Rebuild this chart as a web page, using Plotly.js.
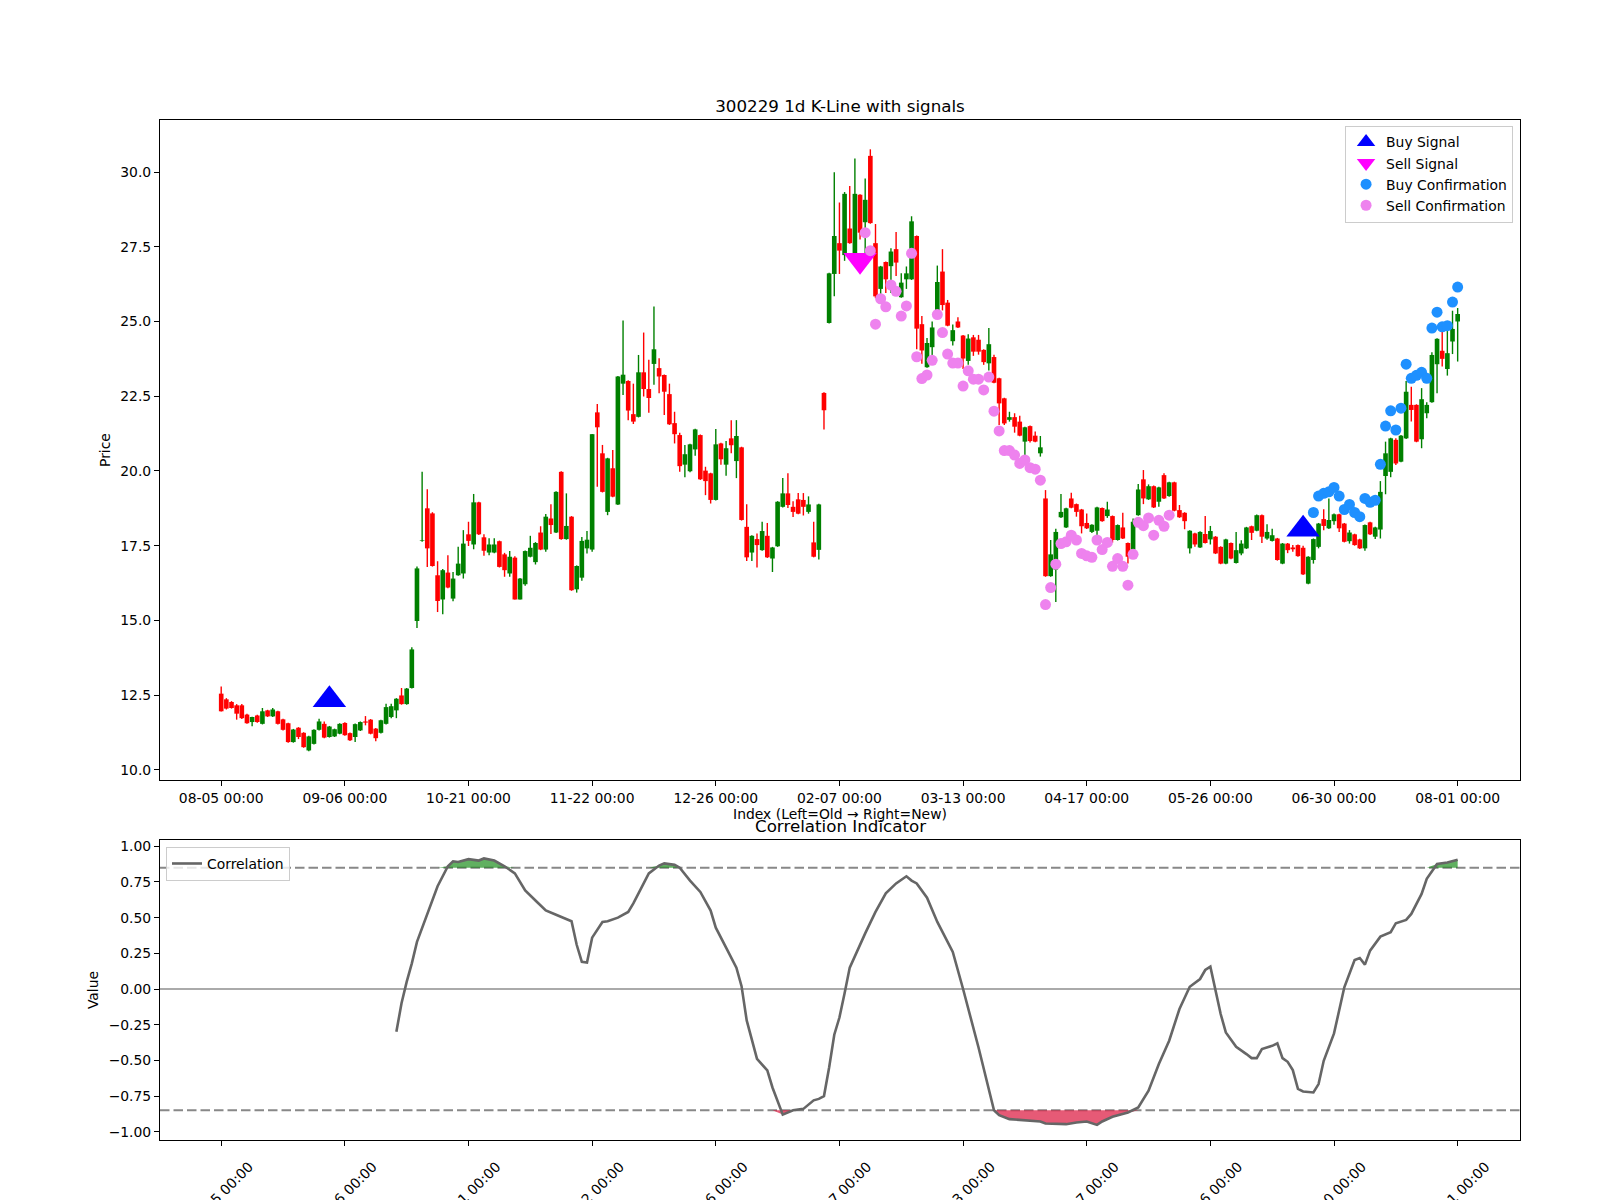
<!DOCTYPE html>
<html>
<head>
<meta charset="utf-8">
<script src="https://cdn.plot.ly/plotly-3.0.1.min.js"></script>
<style>html,body{margin:0;padding:0;background:#fff;}#chart{width:1600px;height:1200px;}</style>
</head>
<body>
<div id="chart"></div>
<script>
// ---------- data ----------
const tickIdx = [0, 24, 48, 72, 96, 120, 144, 168, 192, 216, 240];
const tickText = ['08-05 00:00','09-06 00:00','10-21 00:00','11-22 00:00','12-26 00:00','02-07 00:00','03-13 00:00','04-17 00:00','05-26 00:00','06-30 00:00','08-01 00:00'];

const open = [
12.55,12.36,12.27,12.16,12.16,11.85,11.60,11.82,11.54,11.99,
11.79,11.96,11.69,11.56,10.93,11.41,11.24,10.65,10.87,11.34,
11.54,11.10,11.12,11.21,11.57,11.23,11.10,11.32,11.62,11.68,
11.38,11.24,11.54,11.77,11.99,12.49,12.20,12.74,14.98,17.66,
18.75,18.58,16.51,15.70,16.60,15.73,16.51,16.57,17.88,17.54,
18.95,17.78,17.27,17.27,17.65,17.21,16.57,17.10,15.70,16.21,
17.13,16.95,17.94,17.37,18.41,17.94,19.97,17.72,18.47,16.04,
16.43,17.41,17.37,21.96,20.59,18.63,20.09,18.88,22.92,23.01,
21.90,21.81,23.30,22.74,23.58,23.44,23.21,22.57,21.60,21.20,
20.21,19.99,20.72,21.20,20.01,19.92,19.03,20.92,20.21,21.09,
20.33,20.79,18.13,17.27,17.72,17.35,17.83,17.07,17.48,18.80,
19.25,18.80,19.05,19.03,18.63,17.61,17.36,22.61,24.95,26.59,
27.62,27.22,28.11,27.11,29.24,28.32,30.54,27.62,26.09,26.99,
26.85,27.42,25.81,26.41,26.41,27.86,24.91,23.47,24.14,25.14,
26.67,25.63,24.34,25.00,24.53,23.68,24.47,24.39,24.05,23.60,
23.81,23.10,22.43,21.71,21.80,21.65,20.98,21.50,21.18,20.59,
19.08,16.48,16.70,18.45,18.11,19.08,18.89,18.71,18.26,17.96,
18.00,18.76,18.49,18.49,17.69,18.11,17.59,17.37,18.52,19.72,
19.05,19.49,18.97,19.86,19.16,19.62,18.69,18.60,17.41,17.91,
17.44,17.89,17.71,17.80,17.46,16.90,17.59,16.92,17.24,17.41,
18.15,18.00,18.52,17.74,17.66,17.74,16.90,17.57,17.44,17.52,
17.43,16.23,17.02,17.46,18.39,18.08,18.32,18.55,18.24,17.65,
17.88,17.71,17.41,18.28,17.80,18.04,19.83,19.97,21.04,20.31,
21.09,22.21,22.21,21.06,21.93,22.30,23.57,24.02,23.41,24.33,
25.00];

const high = [
12.79,12.40,12.30,12.20,12.20,11.88,11.78,11.84,12.07,12.01,
12.07,11.98,11.71,11.58,11.37,11.43,11.26,11.14,11.36,11.71,
11.62,11.47,11.38,11.56,11.59,11.25,11.55,11.62,11.80,11.70,
11.40,11.68,12.21,12.21,12.40,12.74,12.74,14.10,16.80,19.97,
19.39,18.62,16.98,16.72,17.18,16.62,17.46,18.02,18.30,19.23,
18.97,17.88,17.75,17.75,17.67,17.26,17.32,17.15,16.42,17.34,
17.83,17.62,18.15,18.56,18.89,19.32,19.99,19.25,18.49,16.84,
17.79,17.99,21.24,22.24,20.87,20.44,20.70,23.18,25.03,23.03,
22.92,23.88,24.63,23.72,25.50,23.77,23.23,22.92,21.98,21.28,
20.87,20.91,21.41,21.22,20.14,19.94,21.40,20.94,21.00,21.70,
21.70,20.81,18.89,17.85,17.91,18.30,18.26,17.46,18.99,19.76,
19.92,18.99,19.26,19.26,19.15,18.30,18.90,22.63,26.63,29.99,
28.98,29.33,29.53,30.45,29.26,29.78,30.76,28.26,26.86,27.01,
27.45,27.99,26.61,26.84,28.52,27.88,25.18,24.45,25.00,26.87,
27.42,25.72,24.90,25.14,24.55,24.57,24.55,24.55,24.07,24.78,
23.89,23.12,22.45,21.98,21.93,21.85,21.48,21.52,21.32,21.17,
19.36,17.69,18.07,19.23,18.77,19.27,18.91,18.73,18.58,18.22,
18.80,18.78,18.97,18.51,18.21,18.60,17.61,18.41,19.56,20.03,
19.55,19.51,19.47,19.92,19.64,19.64,18.86,18.62,18.02,17.93,
17.98,18.49,18.16,17.82,17.48,17.73,17.61,17.96,17.68,18.13,
18.17,18.54,18.54,18.22,18.07,17.76,17.59,17.59,17.52,17.54,
17.50,17.15,17.74,18.26,18.72,19.08,18.58,18.57,18.26,18.02,
17.90,17.73,18.21,18.30,18.13,19.66,20.98,21.11,21.09,21.20,
23.01,22.82,22.23,22.77,22.30,23.97,24.44,24.98,24.80,25.36,
25.45];

const low = [
11.95,12.02,12.05,11.68,11.70,11.54,11.46,11.58,11.52,11.77,
11.77,11.52,11.32,10.91,10.91,11.03,10.74,10.62,10.85,11.32,
11.06,11.08,11.10,11.19,11.14,10.97,10.93,11.30,11.49,11.19,
10.96,11.22,11.52,11.73,11.73,12.18,12.18,12.72,14.75,17.63,
16.79,16.80,15.28,15.21,16.08,15.64,16.49,16.40,17.49,17.38,
17.86,17.16,17.18,17.25,16.77,16.46,16.46,15.70,15.70,16.16,
17.11,16.87,17.35,17.30,17.89,17.92,17.70,17.70,15.99,15.93,
16.33,17.24,17.30,19.47,19.28,18.52,19.12,18.86,22.54,21.70,
21.57,21.79,22.49,21.95,22.88,22.60,21.87,21.54,20.92,19.97,
19.79,19.96,20.51,19.70,19.19,18.91,19.01,20.21,19.84,20.59,
19.76,18.34,16.99,16.99,16.77,17.33,17.09,16.62,17.46,18.78,
18.76,18.46,18.55,18.51,18.57,17.11,17.04,21.39,24.93,25.84,
26.59,27.03,27.60,27.09,27.74,26.99,28.27,25.78,25.66,25.95,
25.95,26.52,25.79,26.09,26.39,24.07,23.59,23.45,23.84,25.12,
25.37,24.84,24.20,24.78,23.41,23.55,23.85,23.89,23.55,23.36,
22.93,21.54,21.54,21.65,21.28,21.16,20.42,20.95,20.96,20.48,
16.46,16.46,15.62,18.43,18.09,18.75,18.47,17.91,18.06,17.92,
17.86,18.30,18.43,17.60,17.67,17.72,16.90,17.30,18.50,18.89,
19.03,18.76,18.80,19.06,19.14,18.65,18.43,18.05,17.24,17.46,
17.42,17.57,17.54,17.22,16.88,16.88,17.05,16.90,17.18,17.39,
17.69,17.98,17.59,17.70,17.64,17.00,16.88,17.25,17.30,17.13,
16.52,16.21,16.90,17.41,18.02,18.06,18.20,17.96,17.61,17.57,
17.50,17.39,17.33,17.86,17.72,17.74,19.22,19.79,20.20,20.29,
21.07,21.65,20.96,20.76,21.76,22.28,22.60,23.49,23.19,23.91,
23.66];

const close = [
11.96,12.05,12.07,11.88,11.73,11.56,11.77,11.60,11.96,11.79,
12.02,11.54,11.34,10.93,11.35,11.10,10.76,11.12,11.34,11.62,
11.08,11.45,11.36,11.54,11.16,10.99,11.53,11.60,11.58,11.21,
11.06,11.66,12.10,12.13,12.38,12.20,12.72,14.03,16.74,17.68,
17.41,16.82,15.65,16.68,16.10,16.40,16.90,17.57,17.66,18.95,
17.88,17.33,17.54,17.54,16.79,16.68,17.13,15.70,16.40,17.32,
17.43,17.59,17.37,18.47,18.19,19.30,17.72,18.16,16.01,16.82,
17.66,17.70,21.23,21.46,19.30,20.42,19.14,23.16,23.22,22.02,
21.65,23.30,22.74,22.44,24.07,23.16,22.65,21.56,21.23,20.16,
20.56,20.89,21.39,19.72,19.66,19.03,20.89,20.39,20.76,20.86,
21.17,18.36,17.11,17.83,17.52,17.99,17.11,17.44,18.97,19.25,
18.86,18.63,18.57,18.80,18.88,17.13,18.88,22.03,26.61,27.86,
27.37,29.27,27.62,29.27,27.97,29.07,28.29,25.84,26.84,26.41,
27.34,26.97,26.30,26.61,28.35,24.76,24.03,24.28,24.80,26.32,
25.55,24.86,24.71,24.80,23.76,24.43,23.99,23.99,23.64,24.24,
22.95,22.26,21.59,21.80,21.48,21.18,21.46,21.00,20.98,20.79,
16.48,17.21,17.96,18.63,18.75,18.77,18.63,18.15,18.08,18.20,
18.78,18.32,18.71,17.69,18.19,17.74,17.13,18.30,19.38,19.08,
19.49,18.78,19.45,19.08,19.62,18.67,18.45,18.32,18.00,17.54,
17.96,17.59,17.99,17.24,16.90,17.71,17.07,17.35,17.57,18.11,
17.93,18.52,17.80,17.96,17.85,17.02,17.57,17.35,17.38,17.15,
16.54,17.13,17.72,18.24,18.16,18.36,18.55,18.08,17.63,17.94,
17.52,17.41,18.19,17.88,18.11,19.30,20.59,21.09,20.25,21.18,
22.65,22.04,20.98,22.40,22.21,23.88,24.42,23.75,23.94,24.75,
25.25];

const buySignalIdx = [21, 210];
const buySignalPrice = [12.35, 18.05];
const sellSignalIdx = [124];
const sellSignalPrice = [27.05];

const buyConfIdx = [212,213,214,215,216,217,218,219,220,221,222,223,224,225,226,227,228,229,230,231,232,233,234,235,236,237,238,239,240];
const buyConfPrice = [18.61,19.16,19.25,19.30,19.45,19.16,18.71,18.88,18.61,18.47,19.08,18.95,19.02,20.22,21.50,22.01,21.37,22.10,23.57,23.10,23.20,23.30,23.10,24.78,25.31,24.82,24.86,25.65,26.15];

const sellConfIdx = [125,126,127,128,129,130,131,132,133,134,135,136,137,138,139,140,141,142,143,144,145,146,147,148,149,150,151,152,153,154,155,156,157,158,159,160,161,162,163,164,165,166,167,168,169,170,171,172,173,174,175,176,177,178,179,180,181,182,183,184];
const sellConfPrice = [27.97,27.37,24.91,25.76,25.49,26.22,26.01,25.18,25.52,27.28,23.82,23.09,23.21,23.70,25.23,24.63,23.91,23.61,23.61,22.84,23.35,23.07,23.07,22.71,23.14,22.00,21.34,20.68,20.68,20.53,20.25,20.37,20.11,20.06,19.69,15.53,16.10,16.88,17.57,17.63,17.85,17.69,17.24,17.16,17.11,17.69,17.37,17.61,16.81,17.07,16.81,16.18,17.21,18.28,18.17,18.43,17.85,18.35,18.15,18.52];

const corrIdx = [34,35,36,37,38,40,42,44,45,46,48,50,51,53,55,57,59,61,63,65,68,69,70,71,72,74,75,77,79,80,82,83,85,86,88,89,91,93,95,96,98,100,101,102,104,106,107,109,111,113,115,116,117,118,119,120,121,122,125,127,129,131,133,134,135,137,139,142,144,147,150,151,153,156,159,160,164,166,168,170,171,173,176,178,180,182,184,186,188,190,191,192,193,194,195,197,199,200,201,202,204,205,206,207,208,209,210,212,213,214,216,218,220,221,222,223,225,227,228,230,231,233,234,236,238,240];
const corrVal = [-0.30,-0.10,0.05,0.18,0.33,0.53,0.72,0.86,0.895,0.89,0.91,0.90,0.915,0.90,0.86,0.81,0.69,0.62,0.55,0.52,0.475,0.31,0.19,0.185,0.36,0.47,0.475,0.50,0.54,0.60,0.74,0.81,0.865,0.88,0.87,0.85,0.76,0.68,0.55,0.43,0.29,0.15,0.02,-0.22,-0.49,-0.57,-0.69,-0.88,-0.85,-0.84,-0.78,-0.77,-0.75,-0.55,-0.32,-0.20,-0.03,0.15,0.39,0.54,0.67,0.74,0.79,0.76,0.74,0.64,0.47,0.26,0.0,-0.41,-0.85,-0.884,-0.912,-0.919,-0.928,-0.942,-0.947,-0.935,-0.928,-0.952,-0.928,-0.895,-0.865,-0.83,-0.713,-0.526,-0.362,-0.14,0.016,0.07,0.133,0.157,-0.012,-0.175,-0.304,-0.405,-0.456,-0.484,-0.484,-0.421,-0.398,-0.381,-0.484,-0.51,-0.568,-0.70,-0.718,-0.725,-0.666,-0.503,-0.311,0.012,0.203,0.217,0.171,0.269,0.367,0.398,0.461,0.484,0.526,0.666,0.772,0.876,0.886,0.905];

const corrThreshold = 0.85;
const priceTicks = [10, 12.5, 15, 17.5, 20, 22.5, 25, 27.5, 30];
const corrTicks = [-1, -0.75, -0.5, -0.25, 0, 0.25, 0.5, 0.75, 1];

// ---------- checks ----------
[open, high, low, close].forEach((a, k) => { if (a.length !== 241) throw new Error('OHLC array ' + k + ' length ' + a.length); });
if (buyConfIdx.length !== buyConfPrice.length) throw new Error('buyConf mismatch');
if (sellConfIdx.length !== sellConfPrice.length) throw new Error('sellConf mismatch');
if (corrIdx.length !== corrVal.length) throw new Error('corr mismatch');

// ---------- build candle traces ----------
const UP = '#008000', DOWN = '#ff0000';
const upX = [], upBase = [], upH = [], dnX = [], dnBase = [], dnH = [];
const upWx = [], upWy = [], dnWx = [], dnWy = [];
for (let i = 0; i < open.length; i++) {
  const o = open[i], c = close[i];
  const hi = Math.max(high[i], o, c), lo = Math.min(low[i], o, c);
  const body = Math.max(Math.abs(c - o), 0.02);
  if (c >= o) {
    upX.push(i); upBase.push(Math.min(o, c)); upH.push(body);
    upWx.push(i, i, null); upWy.push(lo, hi, null);
  } else {
    dnX.push(i); dnBase.push(Math.min(o, c)); dnH.push(body);
    dnWx.push(i, i, null); dnWy.push(lo, hi, null);
  }
}

const traces = [
  {type: 'scatter', mode: 'lines', x: upWx, y: upWy, line: {color: UP, width: 1.4}, showlegend: false, hoverinfo: 'skip', xaxis: 'x', yaxis: 'y'},
  {type: 'scatter', mode: 'lines', x: dnWx, y: dnWy, line: {color: DOWN, width: 1.4}, showlegend: false, hoverinfo: 'skip', xaxis: 'x', yaxis: 'y'},
  {type: 'bar', x: upX, y: upH, base: upBase, width: 0.9, marker: {color: UP, line: {width: 0}}, showlegend: false, hoverinfo: 'skip', xaxis: 'x', yaxis: 'y'},
  {type: 'bar', x: dnX, y: dnH, base: dnBase, width: 0.9, marker: {color: DOWN, line: {width: 0}}, showlegend: false, hoverinfo: 'skip', xaxis: 'x', yaxis: 'y'},
  {type: 'scatter', mode: 'markers', name: 'Buy Signal', x: buySignalIdx, y: buySignalPrice, marker: {symbol: 'triangle-up', color: '#0000ff', size: 29, line: {width: 0}}, xaxis: 'x', yaxis: 'y', hoverinfo: 'skip'},
  {type: 'scatter', mode: 'markers', name: 'Sell Signal', x: sellSignalIdx, y: sellSignalPrice, marker: {symbol: 'triangle-down', color: '#ff00ff', size: 29, line: {width: 0}}, xaxis: 'x', yaxis: 'y', hoverinfo: 'skip'},
  {type: 'scatter', mode: 'markers', name: 'Buy Confirmation', x: buyConfIdx, y: buyConfPrice, marker: {symbol: 'circle', color: '#1e90ff', size: 11, line: {width: 0}}, xaxis: 'x', yaxis: 'y', hoverinfo: 'skip'},
  {type: 'scatter', mode: 'markers', name: 'Sell Confirmation', x: sellConfIdx, y: sellConfPrice, marker: {symbol: 'circle', color: '#ee82ee', size: 11, line: {width: 0}}, xaxis: 'x', yaxis: 'y', hoverinfo: 'skip'},
  // correlation fills
  {type: 'scatter', mode: 'lines', x: corrIdx, y: corrIdx.map(() => corrThreshold), line: {width: 0, color: 'rgba(0,0,0,0)'}, showlegend: false, hoverinfo: 'skip', xaxis: 'x2', yaxis: 'y2'},
  {type: 'scatter', mode: 'lines', x: corrIdx, y: corrVal.map(v => Math.max(v, corrThreshold)), fill: 'tonexty', fillcolor: 'rgba(0,128,0,0.62)', line: {width: 0, color: 'rgba(0,0,0,0)'}, showlegend: false, hoverinfo: 'skip', xaxis: 'x2', yaxis: 'y2'},
  {type: 'scatter', mode: 'lines', x: corrIdx, y: corrIdx.map(() => -corrThreshold), line: {width: 0, color: 'rgba(0,0,0,0)'}, showlegend: false, hoverinfo: 'skip', xaxis: 'x2', yaxis: 'y2'},
  {type: 'scatter', mode: 'lines', x: corrIdx, y: corrVal.map(v => Math.min(v, -corrThreshold)), fill: 'tonexty', fillcolor: 'rgba(220,20,60,0.7)', line: {width: 0, color: 'rgba(0,0,0,0)'}, showlegend: false, hoverinfo: 'skip', xaxis: 'x2', yaxis: 'y2'},
  {type: 'scatter', mode: 'lines', name: 'Correlation', x: corrIdx, y: corrVal, line: {color: '#666666', width: 2.6}, legend: 'legend2', xaxis: 'x2', yaxis: 'y2', hoverinfo: 'skip'}
];

const FONT = 'DejaVu Sans, sans-serif';
const axisCommon = {
  showline: true, mirror: true, linecolor: '#000', linewidth: 1,
  ticks: 'outside', ticklen: 5, tickwidth: 1, tickcolor: '#000',
  showgrid: false, zeroline: false,
  tickfont: {family: FONT, size: 13.9, color: '#000'}
};
const xRange = [-11.88, 252.1];

const layout = {
  width: 1600, height: 1200,
  margin: {l: 160, r: 80, t: 120, b: 60, pad: 0},
  paper_bgcolor: '#ffffff', plot_bgcolor: '#ffffff',
  font: {family: FONT, size: 13.9, color: '#000'},
  title: {text: '300229 1d K-Line with signals', font: {family: FONT, size: 16.7, color: '#000'},
          x: 0.525, xref: 'container', xanchor: 'center', y: 1 - 106 / 1200, yref: 'container', yanchor: 'middle'},
  barmode: 'overlay',
  showlegend: true,
  xaxis: Object.assign({}, axisCommon, {domain: [0, 1], anchor: 'y', range: xRange, tickmode: 'array', tickvals: tickIdx, ticktext: tickText,
          title: {text: 'Index (Left=Old → Right=New)', font: {family: FONT, size: 13.9, color: '#000'}, standoff: 2}}),
  yaxis: Object.assign({}, axisCommon, {domain: [0.3529, 1], anchor: 'x', range: [9.66, 31.74], tickmode: 'array', tickvals: priceTicks, tickformat: '.1f',
          title: {text: 'Price', font: {family: FONT, size: 13.9, color: '#000'}, standoff: 6}}),
  xaxis2: Object.assign({}, axisCommon, {domain: [0, 1], anchor: 'y2', range: xRange, tickmode: 'array', tickvals: tickIdx, ticktext: tickText,
          tickangle: -45, ticklabelshift: 28, ticklabelstandoff: 7}),
  yaxis2: Object.assign({}, axisCommon, {domain: [0, 0.2941], anchor: 'x2', range: [-1.058, 1.044], tickmode: 'array', tickvals: corrTicks, tickformat: '.2f',
          title: {text: 'Value', font: {family: FONT, size: 13.9, color: '#000'}, standoff: 6}}),
  legend: {x: 0.9949, xanchor: 'right', y: 0.9946, yanchor: 'top', traceorder: 'normal', bgcolor: 'rgba(255,255,255,0.8)', bordercolor: '#cccccc', borderwidth: 1,
           font: {family: FONT, size: 13.9, color: '#000'}, tracegroupgap: 0},
  legend2: {x: 0.0044, xanchor: 'left', y: 0.2873, yanchor: 'top', traceorder: 'normal', bgcolor: 'rgba(255,255,255,0.8)', bordercolor: '#cccccc', borderwidth: 1,
           font: {family: FONT, size: 13.9, color: '#000'}},
  shapes: [
    {type: 'line', xref: 'x2 domain', x0: 0, x1: 1, yref: 'y2', y0: 0, y1: 0, line: {color: '#aaaaaa', width: 1.8}, layer: 'below'},
    {type: 'line', xref: 'x2 domain', x0: 0, x1: 1, yref: 'y2', y0: corrThreshold, y1: corrThreshold, line: {color: '#888888', width: 2, dash: '9.5px,4px'}, layer: 'below'},
    {type: 'line', xref: 'x2 domain', x0: 0, x1: 1, yref: 'y2', y0: -corrThreshold, y1: -corrThreshold, line: {color: '#888888', width: 2, dash: '9.5px,4px'}, layer: 'below'}
  ],
  annotations: [
    {text: 'Correlation Indicator', xref: 'paper', yref: 'paper', x: 0.5, y: 0.3083, xanchor: 'center', yanchor: 'middle', showarrow: false,
     font: {family: FONT, size: 16.7, color: '#000'}}
  ]
};

Plotly.newPlot('chart', traces, layout, {staticPlot: true, displayModeBar: false});
</script>
</body>
</html>
